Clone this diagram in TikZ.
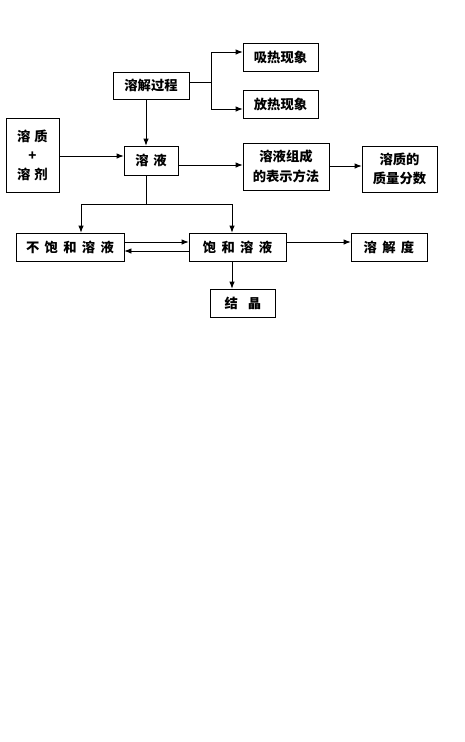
\documentclass[tikz,border=0pt]{standalone}
\usepackage{fontspec}
\newfontfamily\cjk{Noto Sans CJK SC}
\usetikzlibrary{arrows.meta,calc}
\begin{document}
\begin{tikzpicture}[x=1pt,y=1pt,
  box/.style={draw,line width=0.8pt,inner sep=0pt,align=center,
    font=\cjk\bfseries\fontsize{13.3}{19}\selectfont},
  ln/.style={line width=0.8pt},
  arr/.style={line width=0.8pt,-{Latex[length=7pt,width=5.5pt]}}]
\useasboundingbox (0,0) rectangle (465,-742);
\fill[white] (0,0) rectangle (465,-742);
\node[box,minimum width=76pt,minimum height=27pt] (jj) at (151,-85.5) {溶解过程};
\node[box,minimum width=75pt,minimum height=28pt] (xr) at (280.5,-57) {吸热现象};
\node[box,minimum width=75pt,minimum height=28pt] (fr) at (280.5,-104) {放热现象};
\node[box,minimum width=53pt,minimum height=74pt] (zj) at (32.5,-155) {溶\hspace{0.3em}质\\+\\溶\hspace{0.3em}剂};
\node[box,minimum width=54pt,minimum height=29pt] (ry) at (151,-160.5) {溶\hspace{0.35em}液};
\node[box,minimum width=86pt,minimum height=47pt,font=\cjk\bfseries\fontsize{13.3}{20}\selectfont] (zc) at (286,-166.5) {溶液组成\\的表示方法};
\node[box,minimum width=75pt,minimum height=46pt,font=\cjk\bfseries\fontsize{13.3}{19}\selectfont] (zl) at (399.5,-169) {溶质的\\质量分数};
\node[box,minimum width=108pt,minimum height=28pt] (bb) at (70,-247) {不\hspace{0.4em}饱\hspace{0.4em}和\hspace{0.4em}溶\hspace{0.4em}液};
\node[box,minimum width=97pt,minimum height=28pt] (bh) at (237.5,-247) {饱\hspace{0.4em}和\hspace{0.4em}溶\hspace{0.4em}液};
\node[box,minimum width=76pt,minimum height=28pt] (rjd) at (389,-247) {溶\hspace{0.4em}解\hspace{0.4em}度};
\node[box,minimum width=65pt,minimum height=28pt] (jjing) at (242.8,-303) {结\hspace{0.75em}晶};
\coordinate (br) at (211,-82);
\coordinate (sp) at (146,-204);
\draw[arr] ([xshift=-5pt]jj.south) -- ([xshift=-5pt]ry.north);
\draw[ln] ([yshift=3.5pt]jj.east) -- (br);
\draw[arr] (br) |- ([yshift=5pt]xr.west);
\draw[arr] (br) |- ([yshift=-5pt]fr.west);
\draw[arr] ([yshift=-1pt]zj.east) -- ([yshift=-1pt]zj.east -| ry.west);
\draw[arr] ([yshift=-4.5pt]ry.east) -- ([yshift=-4.5pt]ry.east -| zc.west);
\draw[arr] ([yshift=0.5pt]zc.east) -- ([yshift=0.5pt]zc.east -| zl.west);
\draw[ln] ([xshift=-5pt]ry.south) -- (sp);
\draw[arr] (sp) -| ([xshift=11pt]bb.north);
\draw[arr] (sp) -| ([xshift=-5.5pt]bh.north);
\draw[arr] ([yshift=5pt]bb.east) -- ([yshift=5pt]bh.west);
\draw[arr] ([yshift=-4pt]bh.west) -- ([yshift=-4pt]bb.east);
\draw[arr] ([yshift=5pt]bh.east) -- ([yshift=5pt]rjd.west);
\draw[arr] ([xshift=-5.5pt]bh.south) -- ([xshift=-5.5pt]bh.south |- jjing.north);
\end{tikzpicture}
\end{document}
